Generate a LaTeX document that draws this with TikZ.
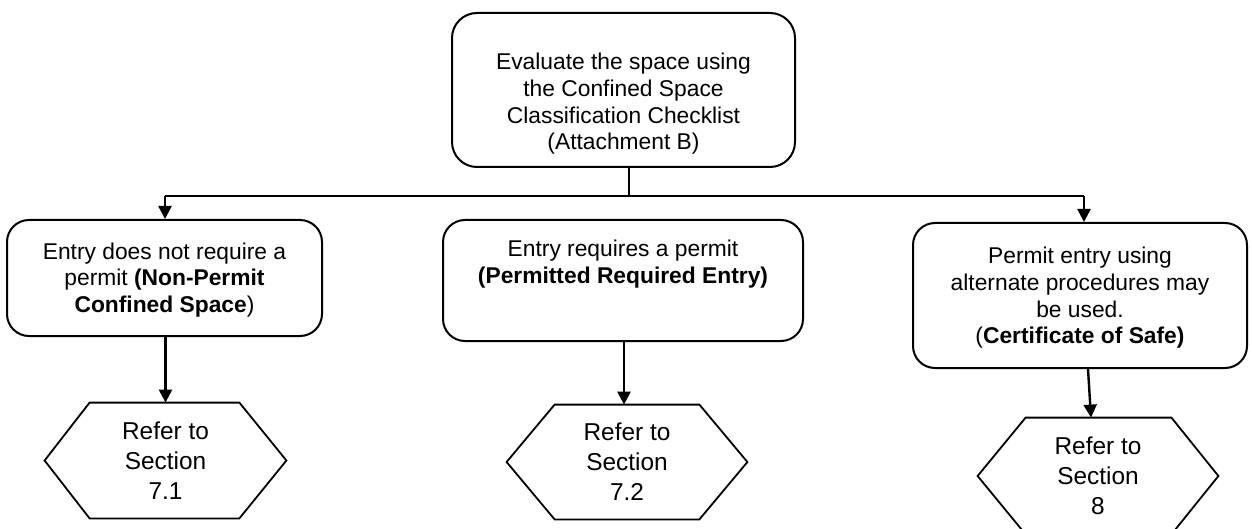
\documentclass[tikz,border=0pt]{standalone}
\usepackage{fontspec}
\setmainfont{Liberation Sans}
\usetikzlibrary{arrows.meta,calc}
\begin{document}
\begin{tikzpicture}[x=0.5pt,y=-0.5pt,
  box/.style={draw,line width=1pt,rounded corners=11pt,inner sep=0pt},
  txt/.style={align=center,font=\fontsize{11.4pt}{13.3pt}\selectfont,inner sep=0pt},
  hexbox/.style={inner sep=0pt,align=center,font=\fontsize{12.2pt}{15pt}\selectfont},
  hexline/.style={line width=0.9pt},
  conn/.style={line width=1.2pt},
  arr/.style={line width=1.2pt,-{Triangle[length=6.5pt,width=6.5pt]}}]
\useasboundingbox (0,0) rectangle (1252,529);
% boxes
\node[box,minimum width=171.5pt,minimum height=77pt,rounded corners=12.5pt] (top) at (623.5,90) {};
\node[txt] (toptxt) at (623.5,104) {Evaluate the space using\\the Confined Space\\Classification Checklist\\(Attachment B)};
\node[box,minimum width=157.5pt,minimum height=58pt] (b1) at (164.5,278) {};
\node[txt] (b1txt) at (164.5,280) {Entry does not require a\\permit \textbf{(Non-Permit}\\\textbf{Confined Space})};
\node[box,minimum width=180pt,minimum height=60.5pt] (b2) at (623,280.5) {};
\node[txt] (b2txt) at (623,264) {Entry requires a permit\\\textbf{(Permitted Required Entry)}};
\node[box,minimum width=167pt,minimum height=72.5pt] (b3) at (1080,295.5) {};
\node[txt] (b3txt) at (1080,298) {Permit entry using\\alternate procedures may\\be used.\\(\textbf{Certificate of Safe)}};
% hexagons
\node[hexbox,minimum width=120.5pt,minimum height=57.5pt] (h1) at (165.5,460.5) {Refer to\\Section\\7.1};
\node[hexbox,minimum width=120pt,minimum height=57pt] (h2) at (627,462) {Refer to\\Section\\7.2};
\node[hexbox,minimum width=120pt,minimum height=58pt] (h3) at (1098,476) {Refer to\\Section\\8};
\draw[hexline] ($(h1.north west)+(45,0)$) -- ($(h1.north east)+(-47,0)$) -- (h1.east) -- ($(h1.south east)+(-47,0)$) -- ($(h1.south west)+(45,0)$) -- (h1.west) -- cycle;
\draw[hexline] ($(h2.north west)+(48,0)$) -- ($(h2.north east)+(-48,0)$) -- (h2.east) -- ($(h2.south east)+(-48,0)$) -- ($(h2.south west)+(48,0)$) -- (h2.west) -- cycle;
\draw[hexline] ($(h3.north west)+(48,0)$) -- ($(h3.north east)+(-47,0)$) -- (h3.east) -- ($(h3.south east)+(-47,0)$) -- ($(h3.south west)+(48,0)$) -- (h3.west) -- cycle;
% connectors
\coordinate (j) at (629,196);
\coordinate (jl) at (165,196);
\coordinate (jr) at (1084,196);
\draw[conn] (top.south -| j) -- (j);
\draw[conn] (jl) -- (jr);
\draw[arr] (jl) -- (jl |- b1.north);
\draw[arr] (jr) -- (jr |- b3.north);
\draw[arr] (b1.south -| h1.north) -- (h1.north);
\draw[arr] ($(b2.south)+(1,0)$) -- ($(h2.north)+(-3,0)$);
\draw[arr] ($(b3.south)+(8,0)$) -- ($(h3.north)+(-7,0)$);
\end{tikzpicture}
\end{document}
